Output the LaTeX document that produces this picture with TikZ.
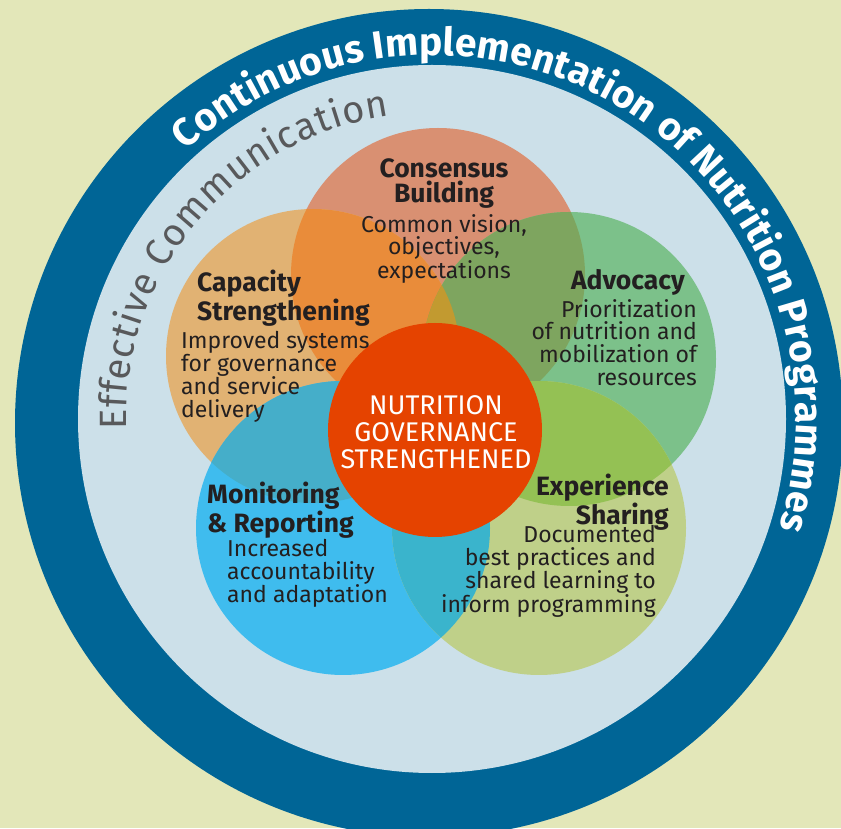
\documentclass[tikz,border=0pt]{standalone}
\usepackage{fontspec}
\setmainfont{Fira Sans}
\usetikzlibrary{decorations.text}
\definecolor{bgpage}{HTML}{E3E7B9}
\definecolor{ringdark}{HTML}{006596}
\definecolor{ringlight}{HTML}{CCE0E9}
\definecolor{consC}{HTML}{D99072}
\definecolor{capC}{HTML}{E1B273}
\definecolor{advC}{HTML}{7CC18A}
\definecolor{monC}{HTML}{3FBCEE}
\definecolor{expC}{HTML}{BFD089}
\definecolor{consCap}{HTML}{E98C3A}
\definecolor{consAdv}{HTML}{7EA55F}
\definecolor{consCapAdv}{HTML}{C29A30}
\definecolor{capMon}{HTML}{45AEC9}
\definecolor{monExp}{HTML}{3AB4CC}
\definecolor{advExp}{HTML}{94C154}
\definecolor{coreC}{HTML}{E54300}
\definecolor{ink}{HTML}{231F20}
\definecolor{commgray}{HTML}{58595B}

\begin{document}
\begin{tikzpicture}[x=1pt, y=1pt,
  petal/.style={circle, minimum size=294pt, inner sep=0pt},
  head/.style={font=\fontsize{26.5}{25}\selectfont\bfseries, text=ink, inner sep=0pt},
  body/.style={font=\fontsize{23}{22.7}\selectfont, text=ink, inner sep=0pt},
  core/.style={font=\fontsize{27}{27}\selectfont, text=white, inner sep=0pt}]
\useasboundingbox (0,0) rectangle (841,828);
\clip (0,0) rectangle (841,828);
\fill[bgpage] (0,0) rectangle (841,828);
% the two rings
\node[circle, fill=ringdark, minimum size=828pt, inner sep=0pt] (outerRing) at (429,405) {};
\node[circle, fill=ringlight, minimum size=708pt, inner sep=0pt] (innerRing) at (432,409) {};
% ring texts
\path[decorate, decoration={text along path, text align=fit to path, text color=white,
    text={|\fontsize{39}{39}\selectfont\bfseries|Continuous Implementation of Nutrition Programmes}}]
  (innerRing.center) ++(132.5:364) arc[start angle=132.5, end angle=-17.5, radius=364];
\path[decorate, decoration={text along path, text align=fit to path, text color=commgray,
    text={|\fontsize{38}{38}\selectfont|Effective Communication}}]
  (innerRing.center) ++(182:306) arc[start angle=182, end angle=98, radius=306];
% five petals
\foreach \name/\pos/\col in {cons/{438,553}/consC, cap/{313,472}/capC, adv/{569,469}/advC,
    mon/{343,300}/monC, exp/{539,300}/expC}{
  \node[petal, fill=\col] (\name) at (\pos) {};
}
% overlaps
\begin{scope}
  \clip (cons.center) circle (147);
  \fill[consCap] (cap.center) circle (147);
  \fill[consAdv] (adv.center) circle (147);
  \clip (cap.center) circle (147);
  \fill[consCapAdv] (adv.center) circle (147);
\end{scope}
\begin{scope}
  \clip (mon.center) circle (147);
  \fill[capMon] (cap.center) circle (147);
  \fill[monExp] (exp.center) circle (147);
\end{scope}
\begin{scope}
  \clip (adv.center) circle (147);
  \fill[advExp] (exp.center) circle (147);
\end{scope}
% centre
\node[circle, fill=coreC, minimum size=214pt, inner sep=0pt] (core) at (435,398) {};
\node[core, align=center, anchor=north] (coreT) at (436,433) {NUTRITION\\GOVERNANCE\\STRENGTHENED};
% petal labels
\node[head, align=center, anchor=north] (consT) at (444,670) {Consensus\\Building};
\node[body, align=center, anchor=north] (consB) at (444,614) {Common vision,\\objectives,\\expectations};
\node[head, align=left, anchor=north west] (capT) at (197,558) {Capacity\\Strengthening};
\node[body, align=left, anchor=north west] (capB) at (181,497) {Improved systems\\for governance\\and service\\delivery};
\node[head, align=right, anchor=north east] (advT) at (685,559) {Advocacy};
\node[body, align=right, anchor=north east] (advB) at (697,529) {Prioritization\\of nutrition and\\mobilization of\\resources};
\node[head, align=left, anchor=north west] (monT) at (207,346) {Monitoring\\\&~Reporting};
\node[body, align=left, anchor=north west] (monB) at (227,289) {Increased\\accountability\\and adaptation};
\node[head, align=right, anchor=north east] (expT) at (669,354) {Experience\\Sharing};
\node[body, align=right, anchor=north east] (expB) at (656,303) {Documented\\best practices and\\shared learning to\\inform programming};
\end{tikzpicture}
\end{document}
